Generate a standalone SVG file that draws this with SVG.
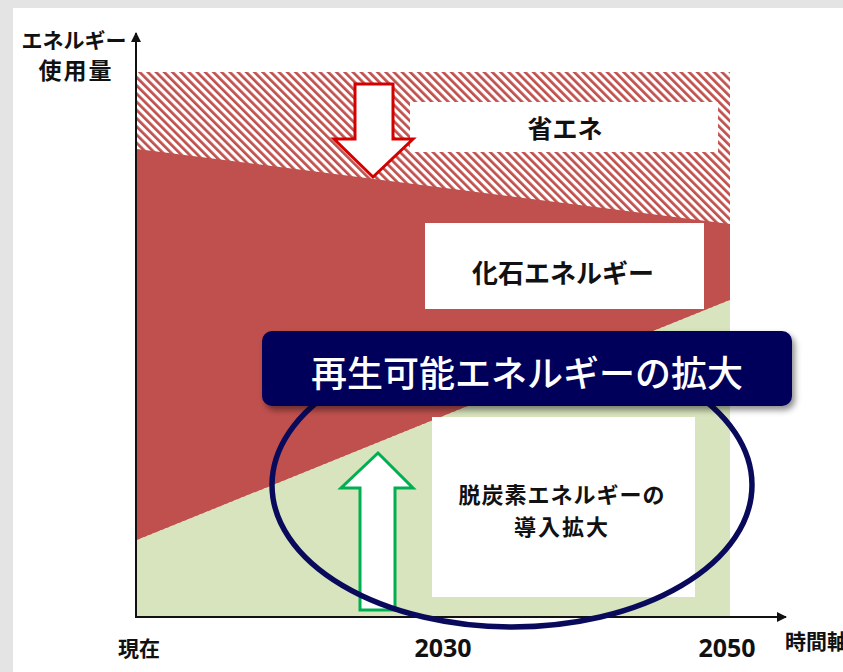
<svg xmlns="http://www.w3.org/2000/svg" width="843" height="672" viewBox="0 0 843 672">
<style>
.jp{font-family:"Noto Sans CJK JP","Noto Sans",sans-serif;font-weight:bold;fill:#111}
.num{font-family:"Open Sans","Liberation Sans",sans-serif;font-weight:bold;fill:#111}
.box{fill:#ffffff}
</style>
<defs>
<pattern id="hatch" patternUnits="userSpaceOnUse" width="5.8" height="10" patternTransform="rotate(-45)">
<rect width="5.8" height="10" fill="#ffffff"/>
<rect width="2.7" height="10" fill="#c0504d"/>
</pattern>
<filter id="shadow" x="-10%" y="-30%" width="120%" height="160%">
<feDropShadow dx="3" dy="4" stdDeviation="3" flood-color="#000" flood-opacity="0.45"/>
</filter>
<marker id="arr" viewBox="0 0 10 10" refX="9" refY="5" markerWidth="10" markerHeight="10" markerUnits="userSpaceOnUse" orient="auto">
<path d="M0,0 L10,5 L0,10 Z" fill="#111"/>
</marker>
</defs>
<rect width="843" height="672" fill="#e4e4e4"/>
<rect x="13" y="8" width="830" height="664" fill="#ffffff"/>

<g id="areas">
<rect x="137" y="72" width="593" height="544" fill="url(#hatch)"/>
<polygon points="137,149 730,224 730,300 137,540" fill="#c0504d"/>
<polygon points="137,540 730,300 730,616 137,616" fill="#d7e4bd"/>
</g>

<g id="connectors" stroke="#111" stroke-width="2" fill="none">
<line x1="136" y1="617" x2="136" y2="33" marker-end="url(#arr)"/>
<line x1="135" y1="617" x2="786" y2="617" marker-end="url(#arr)"/>
</g>

<g id="node-shoene">
<rect class="box" x="410" y="102" width="308" height="50"/>
<text class="jp" x="565" y="138" font-size="25" text-anchor="middle">省エネ</text>
</g>
<g id="node-fossil">
<rect class="box" x="425" y="223" width="279" height="86"/>
<text class="jp" x="563" y="283" font-size="26" text-anchor="middle">化石エネルギー</text>
</g>
<g id="node-decarb">
<rect class="box" x="432" y="417" width="263" height="180"/>
<text class="jp" x="562" y="503" font-size="22" text-anchor="middle" letter-spacing="1">脱炭素エネルギーの</text>
<text class="jp" x="562" y="535" font-size="22" text-anchor="middle" letter-spacing="2">導入拡大</text>
</g>

<g id="arrow-down">
<polygon points="355,84 393,84 393,139 413,139 373,177 334,139 355,139" fill="#ffffff" stroke="#d40000" stroke-width="3" stroke-linejoin="miter"/>
</g>
<g id="arrow-up">
<polygon points="378,453 413,488 395,488 395,610 360,610 360,488 341,488" fill="#ffffff" stroke="#00b050" stroke-width="3" stroke-linejoin="miter"/>
</g>

<g id="highlight-ellipse">
<ellipse cx="512" cy="485" rx="240" ry="142" fill="none" stroke="#0a0a5c" stroke-width="5.5"/>
</g>

<g id="node-banner">
<rect x="262" y="331" width="530" height="75" rx="10" fill="#02055a" filter="url(#shadow)"/>
<text x="527" y="387" font-size="36" font-weight="500" text-anchor="middle" fill="#ffffff" font-family="&quot;Noto Sans CJK JP&quot;,&quot;Noto Sans&quot;,sans-serif">再生可能エネルギーの拡大</text>
</g>

<g id="labels">
<text class="jp" x="74" y="48" font-size="21" text-anchor="middle">エネルギー</text>
<text class="jp" x="76" y="79" font-size="23" text-anchor="middle" letter-spacing="2">使用量</text>
<text class="jp" x="139" y="656" font-size="21" text-anchor="middle">現在</text>
<text class="num" x="443" y="657" font-size="25" text-anchor="middle">2030</text>
<text class="num" x="727" y="657" font-size="25" text-anchor="middle">2050</text>
<text class="jp" x="785" y="649" font-size="21">時間軸</text>
</g>
</svg>
